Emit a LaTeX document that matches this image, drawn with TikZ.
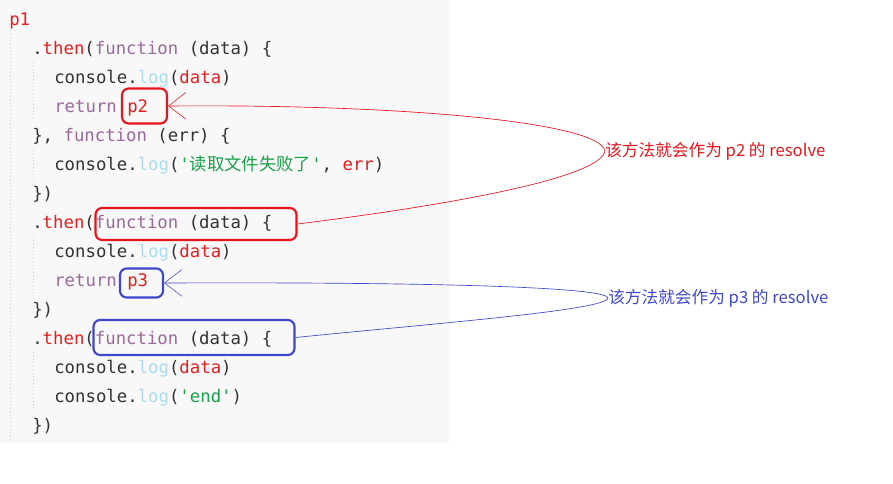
\documentclass[tikz,border=0pt]{standalone}
\usepackage{fontspec}
\setmonofont{DejaVu Sans Mono}
\newfontfamily\cjk{Noto Sans CJK SC}
\usetikzlibrary{arrows.meta,positioning}
\definecolor{codebg}{HTML}{F8F8F8}
\definecolor{kwred}{HTML}{E0201F}
\definecolor{kwpur}{HTML}{9A6A9A}
\definecolor{kwlog}{HTML}{A9DDEE}
\definecolor{kwstr}{HTML}{1A9F4A}
\definecolor{kwtxt}{HTML}{333333}
\definecolor{mkred}{HTML}{E8141C}
\definecolor{mkblue}{HTML}{3F48CC}
\newcommand{\Kr}[1]{\textcolor{kwred}{#1}}
\newcommand{\Kp}[1]{\textcolor{kwpur}{#1}}
\newcommand{\Kl}[1]{\textcolor{kwlog}{#1}}
\newcommand{\Ks}[1]{\textcolor{kwstr}{#1}}
\tikzset{
  codeline/.style={anchor=base west, inner sep=0pt, font=\ttfamily\fontsize{13}{13}\selectfont, text=kwtxt},
  markbox/.style={draw, line width=1.6pt, rounded corners=5pt},
  note/.style={anchor=west, inner sep=0pt, font=\cjk\fontsize{12.5}{13}\selectfont},
  pointer/.style={line width=0.5pt, -{Straight Barb[length=13pt,width=20pt,line width=0.4pt]}},
  guide/.style={gray!40, dotted, line width=0.6pt}
}
\begin{document}
\begin{tikzpicture}[x=0.75pt,y=-0.75pt]
    \useasboundingbox (0,0) rectangle (893,484);
    \fill[codebg] (0,0) rectangle (449,443);
    % indent guides
    \draw[guide] (10,30) -- (10,440);
    \draw[guide] (33,62) -- (33,120);
    \draw[guide] (33,150) -- (33,178);
    \draw[guide] (33,237) -- (33,295);
    \draw[guide] (33,352) -- (33,410);

    \node[codeline] (l1) at (9,26) {\Kr{p1}};
    \node[codeline] (l2) at (32,55) {.\Kr{then}(\Kp{function} (data) \{};
    \node[codeline] (l3) at (54,84) {console.\Kl{log}(\Kr{data})};
    \node[codeline] (l4) at (54,113) {\Kp{return} \Kr{p2}};
    \node[codeline] (l5) at (32,142) {\}, \Kp{function} (err) \{};
    \node[codeline] (l6) at (54,171) {console.\Kl{log}(\Ks{'{\cjk 读取文件失败了}'}, \Kr{err})};
    \node[codeline] (l7) at (32,200) {\})};
    \node[codeline] (l8) at (32,229) {.\Kr{then}(\Kp{function} (data) \{};
    \node[codeline] (l9) at (54,258) {console.\Kl{log}(\Kr{data})};
    \node[codeline] (l10) at (54,287) {\Kp{return} \Kr{p3}};
    \node[codeline] (l11) at (32,316) {\})};
    \node[codeline] (l12) at (32,345) {.\Kr{then}(\Kp{function} (data) \{};
    \node[codeline] (l13) at (54,374) {console.\Kl{log}(\Kr{data})};
    \node[codeline] (l14) at (54,403) {console.\Kl{log}(\Ks{'end'})};
    \node[codeline] (l15) at (32,432) {\})};

    % marked spots
    \node[markbox, mkred, minimum width=45*0.75pt, minimum height=35*0.75pt] (p2box) at (144.5,106) {};
    \node[markbox, mkred, minimum width=201*0.75pt, minimum height=32*0.75pt] (fn2box) at (196,224) {};
    \node[markbox, mkblue, minimum width=43*0.75pt, minimum height=29*0.75pt] (p3box) at (141.5,283) {};
    \node[markbox, mkblue, minimum width=201*0.75pt, minimum height=35*0.75pt] (fn3box) at (194,337.5) {};

    \node[note, text=mkred] (resolve2) at (605,151) {该方法就会作为 p2 的 resolve};
    \node[note, text=mkblue] (resolve3) at (608,298) {该方法就会作为 p3 的 resolve};

    \draw[pointer, mkred] (fn2box.east) .. controls (450,205) and (600,178) .. (resolve2.west)
                          .. controls (600,122) and (400,104) .. (p2box.east);
    \draw[pointer, mkblue] (fn3box.east) .. controls (450,322) and (606,310) .. (resolve3.west)
                          .. controls (606,286) and (400,282) .. (p3box.east);
\end{tikzpicture}
\end{document}
